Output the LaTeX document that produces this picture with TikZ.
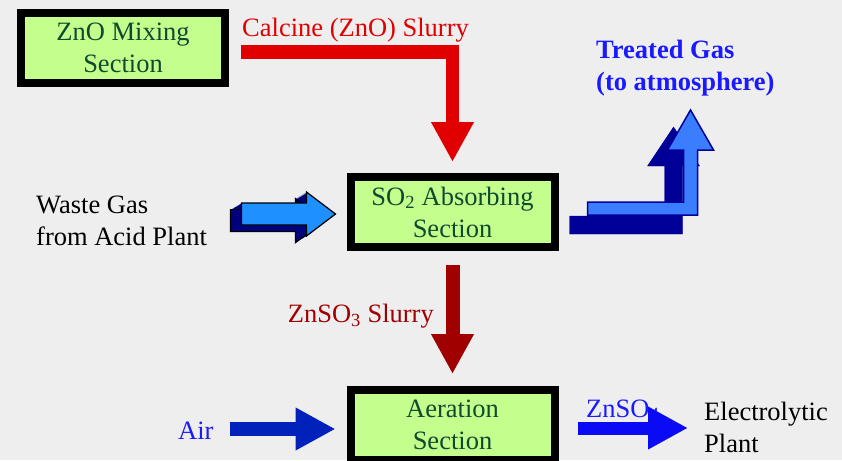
\documentclass[tikz,border=0pt]{standalone}
\usepackage{fontspec}
\setmainfont{Liberation Serif}
\usepackage{xcolor}
\usepackage{tikz}
\usetikzlibrary{arrows.meta,calc}

\definecolor{bggray}{HTML}{EEEEEF}
\definecolor{unitgreen}{HTML}{C4FF8E}
\definecolor{unittext}{HTML}{0F4A2F}
\definecolor{slurryred}{HTML}{E00000}
\definecolor{sulfitered}{HTML}{A00000}
\definecolor{gasblue}{HTML}{1E90FF}
\definecolor{gasnavy}{HTML}{00007F}
\definecolor{ventblue}{HTML}{3B7DFF}
\definecolor{ventnavy}{HTML}{000099}
\definecolor{airblue}{HTML}{0022BB}
\definecolor{prodblue}{HTML}{0A0AF5}
\definecolor{labblue}{HTML}{1A1AFF}

\begin{document}
\begin{tikzpicture}[
  x=1pt, y=-1pt,
  font=\fontsize{26.5}{32}\selectfont,
  unitbox/.style={draw=black, line width=8pt, fill=unitgreen, text=unittext, minimum width=204pt, minimum height=70pt, inner sep=0pt, align=center},
  flowlab/.style={inner sep=0pt, align=left},
  pipe/.style={line width=13.5pt, -{Triangle[length=40pt, width=40pt]}}
]
\useasboundingbox (0,0) rectangle (842,460);
\fill[bggray] (0,0) rectangle (842,460);
\clip (0,0) rectangle (842,460);

% Process units.
\node[unitbox] (zno) at (123,48) {ZnO Mixing\\Section};
\node[unitbox] (absorb) at (452.5,212) {SO\textsubscript{2} Absorbing\\Section};
\node[unitbox] (aerate) at (452.5,425) {Aeration\\Section};

% Labels.
\node[flowlab, text=slurryred, anchor=base west] (calcine) at (242,37) {Calcine (ZnO) Slurry};
\node[flowlab, anchor=west] (waste) at (36,221) {Waste Gas\\from Acid Plant};
\node[flowlab, text=labblue, anchor=west, font=\fontsize{26.5}{32}\selectfont\bfseries] (vent) at (596,68) {Treated Gas\\(to atmosphere)};
\node[flowlab, text=sulfitered, anchor=east] (sulfite) at (434,316) {ZnSO\textsubscript{3} Slurry};
\node[flowlab, text=labblue, anchor=west] (air) at (178,431) {Air};
\node[flowlab, text=labblue, anchor=base west] (sulfate) at (586,417) {ZnSO\textsubscript{4}};
\node[flowlab, anchor=west] (plant) at (704,427) {Electrolytic\\Plant};

% Slurry and air lines.
\draw[pipe, slurryred] ($(zno.east)+(12,4)$) -| ($(absorb.north)+(0,-11)$);
\draw[pipe, sulfitered, line width=14pt] ($(absorb.south)+(0,14)$) -- ($(aerate.north)+(0,-12)$);
\draw[pipe, airblue, line width=14pt] ($(air.east)+(16,-2)$) -- ($(aerate.west)+(-11,4)$);
\draw[pipe, prodblue, line width=13pt] ($(aerate.east)+(19,3)$) -- ($(plant.west)+(-16,1)$);

% Waste gas in (block arrow with depth).
\begin{scope}[shift={($(absorb.west)+(-11,2)$)}]
  \foreach \d in {11,10,...,1} {
    \fill[gasnavy, shift={(-\d,{0.6*\d})}] (-94,-11) -- (-29,-11) -- (-29,-22) -- (0,0) -- (-29,22) -- (-29,11) -- (-94,11) -- cycle;
  }
  \draw[black, line width=1.2pt, shift={(-11,6.6)}] (-94,-11) -- (-29,-11) -- (-29,-22) -- (0,0) -- (-29,22) -- (-29,11) -- (-94,11) -- cycle;
  \filldraw[fill=gasblue, draw=black, line width=1.2pt] (-94,-11) -- (-29,-11) -- (-29,-22) -- (0,0) -- (-29,22) -- (-29,11) -- (-94,11) -- cycle;
\end{scope}

% Treated gas out.
\begin{scope}[shift={(absorb.east)}]
  \filldraw[fill=ventnavy, draw=ventnavy] (11,4) -- (106,4) -- (106,-46) -- (89,-46) -- (115,-85) -- (141,-46) -- (124,-46) -- (124,22) -- (11,22) -- cycle;
  \filldraw[fill=ventblue, draw=ventnavy, line width=1.5pt] (29,-10) -- (125,-10) -- (125,-62) -- (109,-62) -- (132,-102) -- (155,-62) -- (139,-62) -- (139,3) -- (29,3) -- cycle;
\end{scope}
\end{tikzpicture}
\end{document}
